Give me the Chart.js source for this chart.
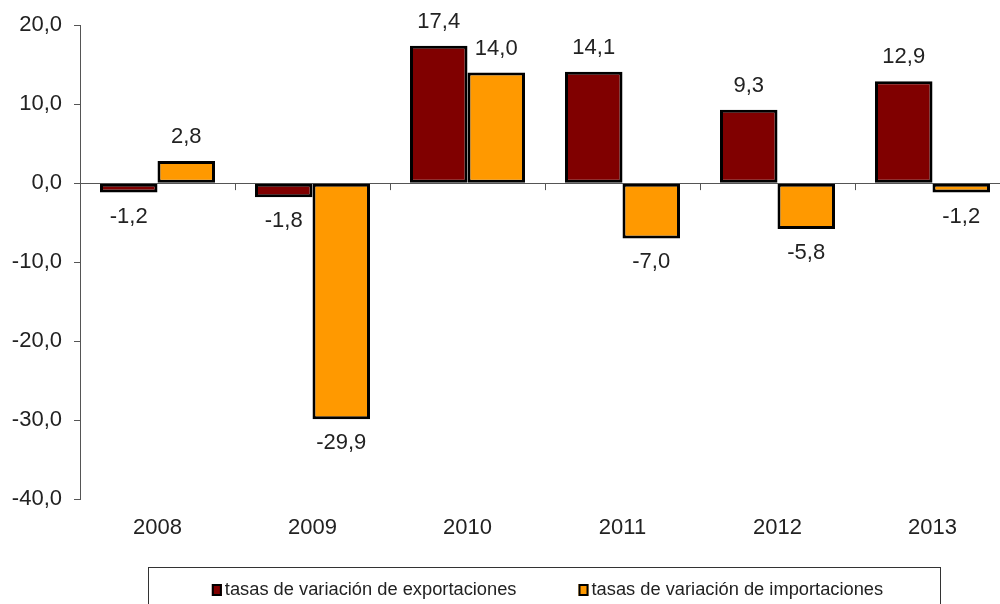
<!DOCTYPE html>
<html>
<head>
<meta charset="utf-8">
<script src="https://cdn.jsdelivr.net/npm/chart.js@4.4.1/dist/chart.umd.min.js"></script>
<style>
html,body{margin:0;padding:0;background:#fff;overflow:hidden;}
#wrap{width:1010px;height:604px;}
</style>
</head>
<body>
<div id="wrap"><canvas id="c" width="1010" height="604"></canvas></div>
<script>
const categories = ['2008','2009','2010','2011','2012','2013'];
const exportaciones = [-1.2, -1.8, 17.4, 14.1, 9.3, 12.9];
const importaciones = [2.8, -29.9, 14.0, -7.0, -5.8, -1.2];
const seriesNames = ['tasas de variación de exportaciones','tasas de variación de importaciones'];
const yMin = -40, yMax = 20, yStep = 10;

const FONT = '"Liberation Sans", Arial, sans-serif';
const TEXT = '#222222';
const fmt = v => v.toFixed(1).replace('.', ',');

const dataLabels = {
  id: 'dataLabels',
  afterDatasetsDraw(chart) {
    const ctx = chart.ctx;
    ctx.save();
    ctx.font = '22px ' + FONT;
    ctx.fillStyle = TEXT;
    ctx.textAlign = 'center';
    ctx.textBaseline = 'middle';
    chart.data.datasets.forEach((ds, di) => {
      chart.getDatasetMeta(di).data.forEach((bar, i) => {
        const v = ds.data[i];
        const y = v >= 0 ? bar.y - 24 : bar.y + 24;
        ctx.fillText(fmt(v), bar.x, y);
      });
    });
    ctx.restore();
  }
};

const catTicks = {
  id: 'catTicks',
  afterDraw(chart) {
    const ctx = chart.ctx, xs = chart.scales.x, ys = chart.scales.y;
    const y0 = ys.getPixelForValue(0);
    ctx.save();
    ctx.strokeStyle = '#555';
    ctx.lineWidth = 1;
    for (let i = 1; i < categories.length; i++) {
      const x = Math.round((xs.getPixelForValue(i - 1) + xs.getPixelForValue(i)) / 2) + 0.5;
      ctx.beginPath();
      ctx.moveTo(x, y0);
      ctx.lineTo(x, y0 + 7);
      ctx.stroke();
    }
    ctx.restore();
  }
};

const boxLegend = {
  id: 'boxLegend',
  afterDraw(chart) {
    const ctx = chart.ctx;
    ctx.save();
    ctx.strokeStyle = '#333';
    ctx.lineWidth = 1;
    const bx = 148.5, by = 567.5, bw = 792, bh = 60;
    ctx.strokeRect(bx, by, bw, bh);
    ctx.font = '18.3px ' + FONT;
    const gap = 62, mw = 10, mg = 3;
    const widths = seriesNames.map(n => mw + mg + ctx.measureText(n).width);
    const total = widths[0] + gap + widths[1];
    let x = bx + bw / 2 - total / 2 + 3;
    const cy = 590;
    chart.data.datasets.forEach((ds, i) => {
      ctx.fillStyle = ds.backgroundColor;
      ctx.fillRect(x, cy - 6, mw, 12);
      ctx.strokeStyle = '#000';
      ctx.lineWidth = 2;
      ctx.strokeRect(x + 1, cy - 5, mw - 2, 10);
      ctx.fillStyle = TEXT;
      ctx.textAlign = 'left';
      ctx.textBaseline = 'middle';
      ctx.fillText(seriesNames[i], x + mw + mg, cy);
      x += widths[i] + gap;
    });
    ctx.restore();
  }
};

new Chart(document.getElementById('c'), {
  type: 'bar',
  data: {
    labels: categories,
    datasets: [
      { label: seriesNames[0], data: exportaciones, backgroundColor: '#800000', borderColor: '#000', borderWidth: 3, borderSkipped: false },
      { label: seriesNames[1], data: importaciones, backgroundColor: '#FF9900', borderColor: '#000', borderWidth: 3, borderSkipped: false }
    ]
  },
  options: {
    responsive: false,
    animation: false,
    devicePixelRatio: 1,
    layout: { padding: { top: 25, left: 0, right: 0, bottom: 0 } },
    datasets: { bar: { categoryPercentage: 0.742, barPercentage: 1.0 } },
    plugins: { legend: { display: false }, tooltip: { enabled: false } },
    scales: {
      x: {
        grid: { display: false },
        border: { display: false },
        ticks: { color: TEXT, font: { family: FONT, size: 22 }, padding: 8 },
        afterFit: s => { s.height = 105; }
      },
      y: {
        min: yMin, max: yMax,
        border: { display: true, color: '#555', width: 1 },
        grid: {
          drawOnChartArea: true,
          drawTicks: true,
          tickLength: 6,
          tickColor: '#555',
          color: c => (c.tick && c.tick.value === 0) ? '#555' : 'rgba(0,0,0,0)',
          lineWidth: 1
        },
        ticks: {
          stepSize: yStep,
          color: TEXT,
          font: { family: FONT, size: 22 },
          padding: 12,
          callback: v => fmt(v)
        },
        afterFit: s => { s.width = 80; }
      }
    }
  },
  plugins: [dataLabels, catTicks, boxLegend]
});
</script>
</body>
</html>
